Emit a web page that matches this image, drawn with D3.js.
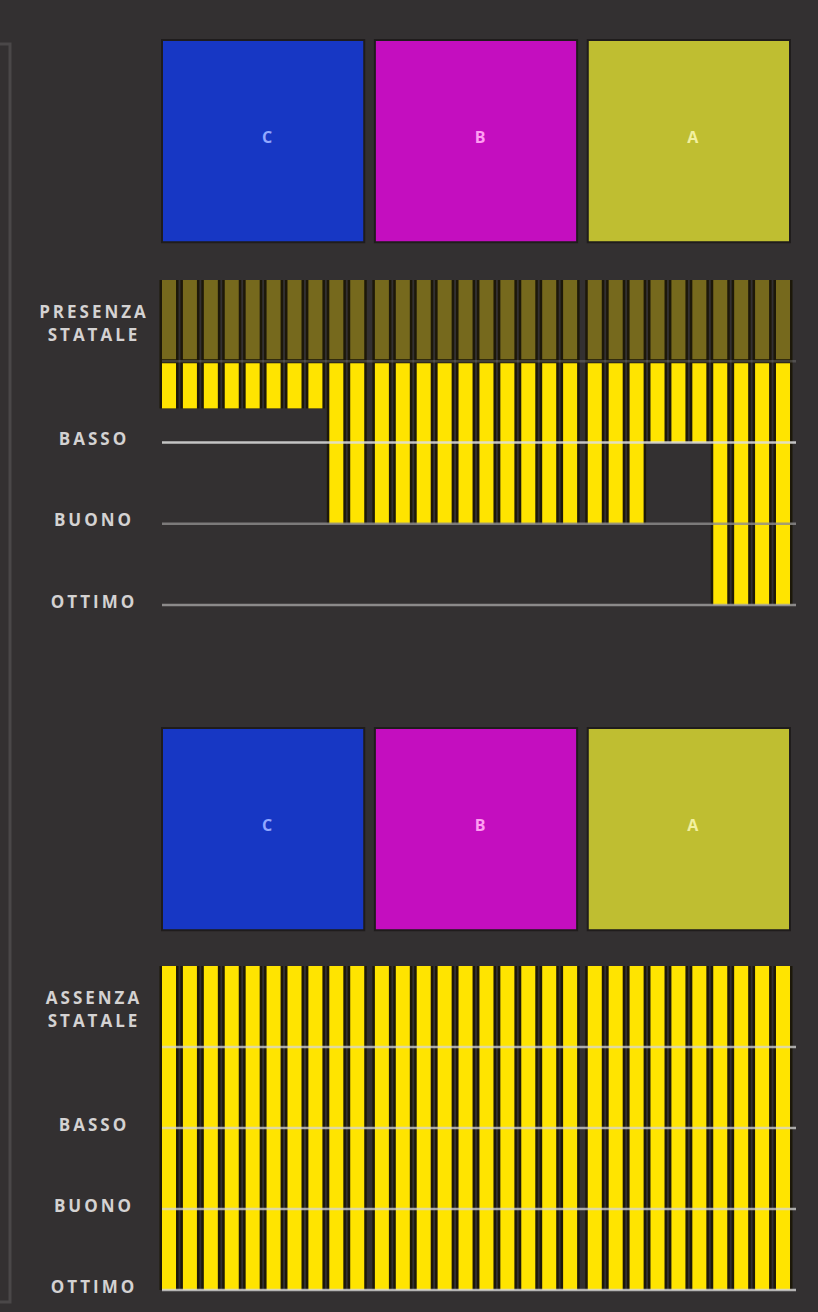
<!DOCTYPE html>
<html>
<head>
<meta charset="utf-8">
<script src="https://cdn.jsdelivr.net/npm/d3@7"></script>
<style>
  body { margin: 0; background: #333031; }
  svg { display: block; }
</style>
</head>
<body>
<svg id="chart"></svg>
<script>
// Groups (squares) and the level reached by each of the 10 bars in a group
const groups = ['C', 'B', 'A'];
const rowLevels = ['STATALE', 'BASSO', 'BUONO', 'OTTIMO'];

// 0 = top of the "statale" row, 1 = its end, 2 = BASSO, 3 = BUONO, 4 = OTTIMO
const presenzaC = [1.58, 1.58, 1.58, 1.58, 1.58, 1.58, 1.58, 1.58, 3, 3];
const presenzaB = [3, 3, 3, 3, 3, 3, 3, 3, 3, 3];
const presenzaA = [3, 3, 3, 2, 2, 2, 4, 4, 4, 4];

const assenzaC = [4, 4, 4, 4, 4, 4, 4, 4, 4, 4];
const assenzaB = [4, 4, 4, 4, 4, 4, 4, 4, 4, 4];
const assenzaA = [4, 4, 4, 4, 4, 4, 4, 4, 4, 4];

const color = {
  bg: '#333031',
  yellow: '#ffe400',
  olive: '#76691d',
  gap: '#1d1809',
  label: '#d4d2d2',
  square: { C: '#1737c4', B: '#c40ebf', A: '#bfbe31' },
  letter: { C: '#93a8ff', B: '#ff9df2', A: '#f2f0a0' },
};

const W = 818, H = 1312;
const svg = d3.select('#chart').attr('width', W).attr('height', H);

svg.append('rect').attr('width', W).attr('height', H).attr('fill', color.bg);

// left bracket
svg.append('path')
  .attr('d', 'M0,44 H10 V1302 H0')
  .attr('fill', 'none')
  .attr('stroke', '#4a4748')
  .attr('stroke-width', 3);

// Scales shared by both panels
const gx = d3.scaleBand().domain(groups).range([162, 790]).paddingInner(0.05);
const bx = d3.scaleBand().domain(d3.range(10)).range([0, gx.bandwidth()]).paddingInner(0.33);

const panels = [
  {
    squareY: 40, barTop: 280, barBottom: 605, splitState: true,
    stateLabel: ['PRESENZA', 'STATALE'],
    levels: [presenzaC, presenzaB, presenzaA],
    lineColors: ['#8d8b8b', '#dedede', '#8f8d8d', '#a3a1a1'],
    lineOpacity: [0.35, 0.85, 0.8, 0.8],
  },
  {
    squareY: 728, barTop: 966, barBottom: 1290, splitState: false,
    stateLabel: ['ASSENZA', 'STATALE'],
    levels: [assenzaC, assenzaB, assenzaA],
    lineColors: ['#d6d6d6', '#d6d6d6', '#d6d6d6', '#d6d6d6'],
    lineOpacity: [0.75, 0.75, 0.75, 0.8],
  },
];

panels.forEach(p => drawPanel(svg.append('g'), p));

function drawPanel(g, p) {
  const y = d3.scaleLinear().domain([0, rowLevels.length]).range([p.barTop, p.barBottom]);
  const size = gx.bandwidth();

  // Squares
  g.selectAll('rect.sq')
    .data(groups)
    .join('rect')
    .attr('class', 'sq')
    .attr('x', d => gx(d))
    .attr('y', p.squareY)
    .attr('width', size)
    .attr('height', size)
    .attr('fill', d => color.square[d])
    .attr('stroke', '#1f1c1c')
    .attr('stroke-width', 2);

  g.selectAll('text.sqLabel')
    .data(groups)
    .join('text')
    .attr('class', 'sqLabel')
    .attr('x', d => gx(d) + size / 2 + 4)
    .attr('y', p.squareY + size / 2 - 4)
    .attr('text-anchor', 'middle')
    .attr('dominant-baseline', 'central')
    .attr('font-family', 'Open Sans, sans-serif')
    .attr('font-weight', 700)
    .attr('font-size', 16)
    .attr('fill', d => color.letter[d])
    .text(d => d);

  const bars = groups.flatMap((grp, gi) => p.levels[gi].map((v, i) => ({ grp, i, v })));
  const barX = d => gx(d.grp) + bx(d.i);
  const bw = bx.bandwidth();

  // dark edges round each bar
  g.append('g')
    .selectAll('rect')
    .data(bars)
    .join('rect')
    .attr('x', d => barX(d) - 2.5)
    .attr('width', bw + 5)
    .attr('y', y(0))
    .attr('height', d => y(d.v) - y(0))
    .attr('fill', color.gap);

  if (p.splitState) {
    g.append('g')
      .selectAll('rect')
      .data(bars)
      .join('rect')
      .attr('x', barX)
      .attr('width', bw)
      .attr('y', y(0))
      .attr('height', y(1) - y(0) - 2)
      .attr('fill', color.olive);
  }

  const yStart = p.splitState ? y(1) + 2 : y(0);
  g.append('g')
    .selectAll('rect')
    .data(bars)
    .join('rect')
    .attr('x', barX)
    .attr('width', bw)
    .attr('y', yStart)
    .attr('height', d => Math.max(0, y(d.v) - yStart))
    .attr('fill', color.yellow);

  // level lines
  g.append('g')
    .selectAll('line')
    .data(d3.range(1, rowLevels.length + 1))
    .join('line')
    .attr('x1', 162)
    .attr('x2', 796)
    .attr('y1', d => y(d))
    .attr('y2', d => y(d))
    .attr('stroke', (d, i) => p.lineColors[i])
    .attr('stroke-opacity', (d, i) => p.lineOpacity[i])
    .attr('stroke-width', 2.5);

  // row labels
  const labels = g.append('g')
    .attr('font-family', 'Open Sans, sans-serif')
    .attr('font-weight', 700)
    .attr('font-size', 17)
    .attr('letter-spacing', 3)
    .attr('fill', color.label)
    .attr('text-anchor', 'middle')
    .attr('dominant-baseline', 'central');

  const mid = (y(0) + y(1)) / 2;
  labels.selectAll('text.state')
    .data(p.stateLabel)
    .join('text')
    .attr('class', 'state')
    .attr('x', 94)
    .attr('y', (d, i) => mid - 9 + i * 23)
    .text(d => d);

  labels.selectAll('text.level')
    .data(rowLevels.slice(1))
    .join('text')
    .attr('class', 'level')
    .attr('x', 94)
    .attr('y', (d, i) => y(i + 2) - 4)
    .text(d => d);
}
</script>
</body>
</html>
